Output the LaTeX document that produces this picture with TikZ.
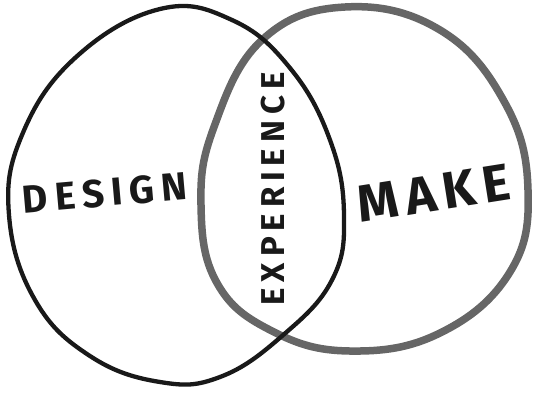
\documentclass[tikz,border=0pt]{standalone}
\usepackage{fontspec}
\setmainfont{Fira Sans}
\tikzset{
  designring/.style={black!90, line width=4.3pt, line join=round},
  makering/.style={black!60, line width=7.5pt, line join=round},
  word/.style={font=\bfseries, inner sep=0pt, text=black!90}
}

\begin{document}
\begin{tikzpicture}[x=1pt,y=-1pt]
\useasboundingbox (0,0) rectangle (535,392);

% Make ring
\draw[makering] plot[smooth cycle, tension=0.7] coordinates {
  (345,7) (440,30) (505,103) (528,190) (510,272) (440,333) (350,351)
  (272,331) (217,283) (201,205) (214,127) (262,40)};

% Design ring
\draw[designring] plot[smooth cycle, tension=0.7] coordinates {
  (160,9) (232,20) (290,68) (330,140) (344,215) (332,280) (282,336)
  (220,377) (160,382) (90,356) (35,300) (9,215) (22,135) (75,58)};

% Labels
\node[word, font=\bfseries\fontsize{39}{39}\selectfont\addfontfeature{LetterSpace=18}, rotate=5]
  (design) at (105,193) {DESIGN};
\node[word, font=\bfseries\fontsize{33}{33}\selectfont\addfontfeature{LetterSpace=18}, rotate=90]
  (experience) at (273,189) {EXPERIENCE};
\node[word, font=\bfseries\fontsize{52}{52}\selectfont\addfontfeature{LetterSpace=14}, rotate=9]
  (make) at (434,193) {MAKE};
\end{tikzpicture}
\end{document}
